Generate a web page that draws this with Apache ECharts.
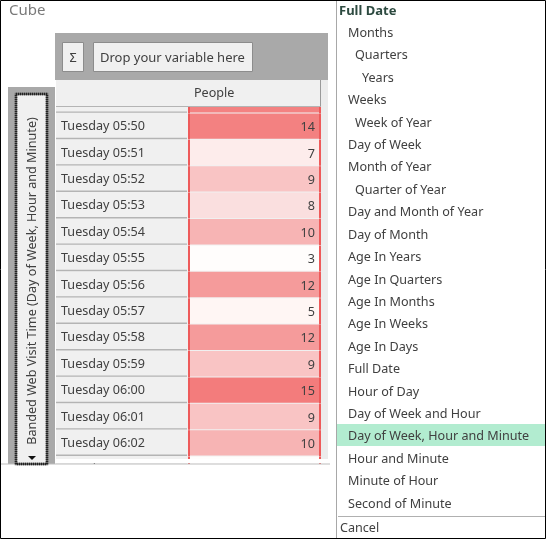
<!DOCTYPE html>
<html>
<head>
<meta charset="utf-8">
<style>html,body{margin:0;padding:0;background:#fff}#main{width:546px;height:539px}</style>
<script src="https://cdn.jsdelivr.net/npm/echarts@6/dist/echarts.min.js"></script>
</head>
<body>
<div id="main"></div>
<script>
// data (first and last rows are mostly scrolled out of view)
var rowLabels = ['Tuesday 05:49','Tuesday 05:50','Tuesday 05:51','Tuesday 05:52','Tuesday 05:53','Tuesday 05:54','Tuesday 05:55','Tuesday 05:56','Tuesday 05:57','Tuesday 05:58','Tuesday 05:59','Tuesday 06:00','Tuesday 06:01','Tuesday 06:02','Tuesday 06:03'];
var people = [14,14,7,9,8,10,3,12,5,12,9,15,9,10,3];
var columnName = 'People';
var rowVariable = 'Banded Web Visit Time (Day of Week, Hour and Minute)';
var menuItems = ['Full Date','Months','Quarters','Years','Weeks','Week of Year','Day of Week','Month of Year','Quarter of Year','Day and Month of Year','Day of Month','Age In Years','Age In Quarters','Age In Months','Age In Weeks','Age In Days','Full Date','Hour of Day','Day of Week and Hour','Day of Week, Hour and Minute','Hour and Minute','Minute of Hour','Second of Minute'];
var menuLevels = [0,1,2,3,1,2,1,1,2,1,1,1,1,1,1,1,1,1,1,1,1,1,1];

var FONT = '"Noto Sans", sans-serif';
var TEXT = '#404040';
var SIZE = 12.6;
// colour for each count from 3 to 15
var heatColors = ['#fffdfc','#fffafa','#fff6f4','#fef1f0','#fdeceb','#fadfdf','#f9c4c4','#f7b4b4','#f6a8a8','#f59b9b','#f48e8e','#f38181','#f37c7c'];

var chart = echarts.init(document.getElementById('main'));

function rect(x, y, w, h, fill, z, stroke, extra) {
  return {type:'rect', silent:true, z:z, shape:{x:x,y:y,width:w,height:h},
    style:Object.assign({fill:fill, stroke:stroke||null, lineWidth:stroke?1:0}, extra||{})};
}
function label(text, x, y, size, color, z, extra) {
  return {type:'text', silent:true, z:z, x:x, y:y,
    style:Object.assign({text:text, font:size+'px '+FONT, fill:color, textAlign:'left', textVerticalAlign:'middle'}, extra||{})};
}

var LOW = -1, TOP = 100;
var elements = [
  // panels below the table
  rect(55,33,273,47,'#a9a9a9',LOW),
  rect(8,87,47,377,'#a9a9a9',LOW),
  rect(56,80,265,380,'#f0f0f0',LOW),
  rect(321,80,7,380,'#ececec',LOW),

  // covers: header row and everything under the table
  rect(0,0,336,80,'#ffffff',TOP-1),
  rect(55,33,273,47,'#a9a9a9',TOP),
  rect(62.5,42.5,21,29,'#f0f0f0',TOP,'#8c8c8c'),
  label('Σ',73,58,12.6,TEXT,TOP,{textAlign:'center'}),
  rect(93.5,42.5,159,29,'#f0f0f0',TOP,'#8c8c8c'),
  label('Drop your variable here',100,58,13,TEXT,TOP),
  rect(56,80,131,26,'#f0f0f0',TOP),
  rect(188,80,133,26,'#f0f0f0',TOP),
  rect(56,106,265,1,'#b4b4b4',TOP),
  rect(320,80,1,26,'#9a9a9a',TOP),
  label(columnName,194,93,SIZE,TEXT,TOP),
  rect(56,459,272,4,'#ffffff',TOP),
  rect(0,464,336,75,'#ffffff',TOP),
  rect(1,463.5,329,1,'#bdbdbd',TOP),

  // vertical variable button
  rect(16,94,31,370,'#f0f0f0',TOP,'#666666',{lineWidth:2.5}),
  rect(16,94,31,370,'rgba(0,0,0,0)',TOP,'#222222',{lineDash:[1,1],lineWidth:2.5}),
  {type:'text', silent:true, z:TOP, x:32, y:281, rotation:Math.PI/2,
    style:{text:rowVariable, font:SIZE+'px '+FONT, fill:TEXT, textAlign:'center', textVerticalAlign:'middle'}},
  {type:'polygon', silent:true, z:TOP, shape:{points:[[28,456],[36,456],[32,460]]}, style:{fill:'#111111'}},

  label('Cube',9,11,15,'#7a7a7a',TOP),

  // right hand menu
  rect(336,0,1,539,'#a8a8a8',TOP),
  rect(337,424,209,22,'#b2ecd0',TOP),
  rect(338,516,208,1,'#b0b0b0',TOP),
  label('Cancel',340,528,SIZE,TEXT,TOP)
];
var indent = [339,348,355,362];
menuItems.forEach(function (item, i) {
  elements.push(label(item, indent[menuLevels[i]], 11 + i * 22.41, SIZE, i === 0 ? '#2d4a40' : TEXT, TOP+1,
    i === 0 ? {font:'bold 13px '+FONT} : {}));
});
// picture frame
elements.push(rect(0.5,0.5,545,538,'rgba(0,0,0,0)',TOP+2,'#000000'));

function renderCell(params, api) {
  var p = api.coord([api.value(0), api.value(1)]);
  var s = api.size([1, 1]);
  var top = p[1] - s[1] / 2, left = p[0] - s[0] / 2, right = p[0] + s[0] / 2;
  return {type:'group', children:[
    {type:'rect', shape:{x:56,y:top,width:131,height:s[1]-2}, style:{fill:'#f0f0f0'}},
    {type:'rect', shape:{x:56,y:top+s[1]-2,width:131,height:1.4}, style:{fill:'#b4b4b4'}},
    {type:'rect', shape:{x:left,y:top,width:s[0],height:s[1]-1}, style:{fill:api.visual('color')}},
    {type:'rect', shape:{x:left,y:top,width:2,height:s[1]-0.4}, style:{fill:'#ee5a5a'}},
    {type:'rect', shape:{x:right-2,y:top,width:2,height:s[1]-0.4}, style:{fill:'#ee5a5a'}},
    {type:'text', x:right-6, y:p[1]+1, style:{text:String(api.value(2)), font:SIZE+'px '+FONT, fill:TEXT, textAlign:'right', textVerticalAlign:'middle'}}
  ]};
}

var option = {
  animation:false,
  grid:{left:188, top:87, width:133, height:396},
  xAxis:{type:'category', data:[columnName], show:false},
  yAxis:{type:'category', inverse:true, data:rowLabels, z:5,
    axisLine:{show:false}, axisTick:{show:false}, splitLine:{show:false},
    axisLabel:{align:'left', margin:127, padding:[2,0,0,0], color:TEXT, fontFamily:'"Noto Sans", sans-serif', fontSize:SIZE, interval:0}},
  visualMap:{show:false, type:'continuous', min:3, max:15, dimension:2, seriesIndex:0, inRange:{color:heatColors}},
  series:[{
    name:columnName, type:'custom', renderItem:renderCell, clip:false, z:2,
    encode:{x:0, y:1},
    data:people.map(function (v, i) { return [0, i, v]; })
  }],
  graphic:{elements:elements}
};
chart.setOption(option);
</script>
</body>
</html>
